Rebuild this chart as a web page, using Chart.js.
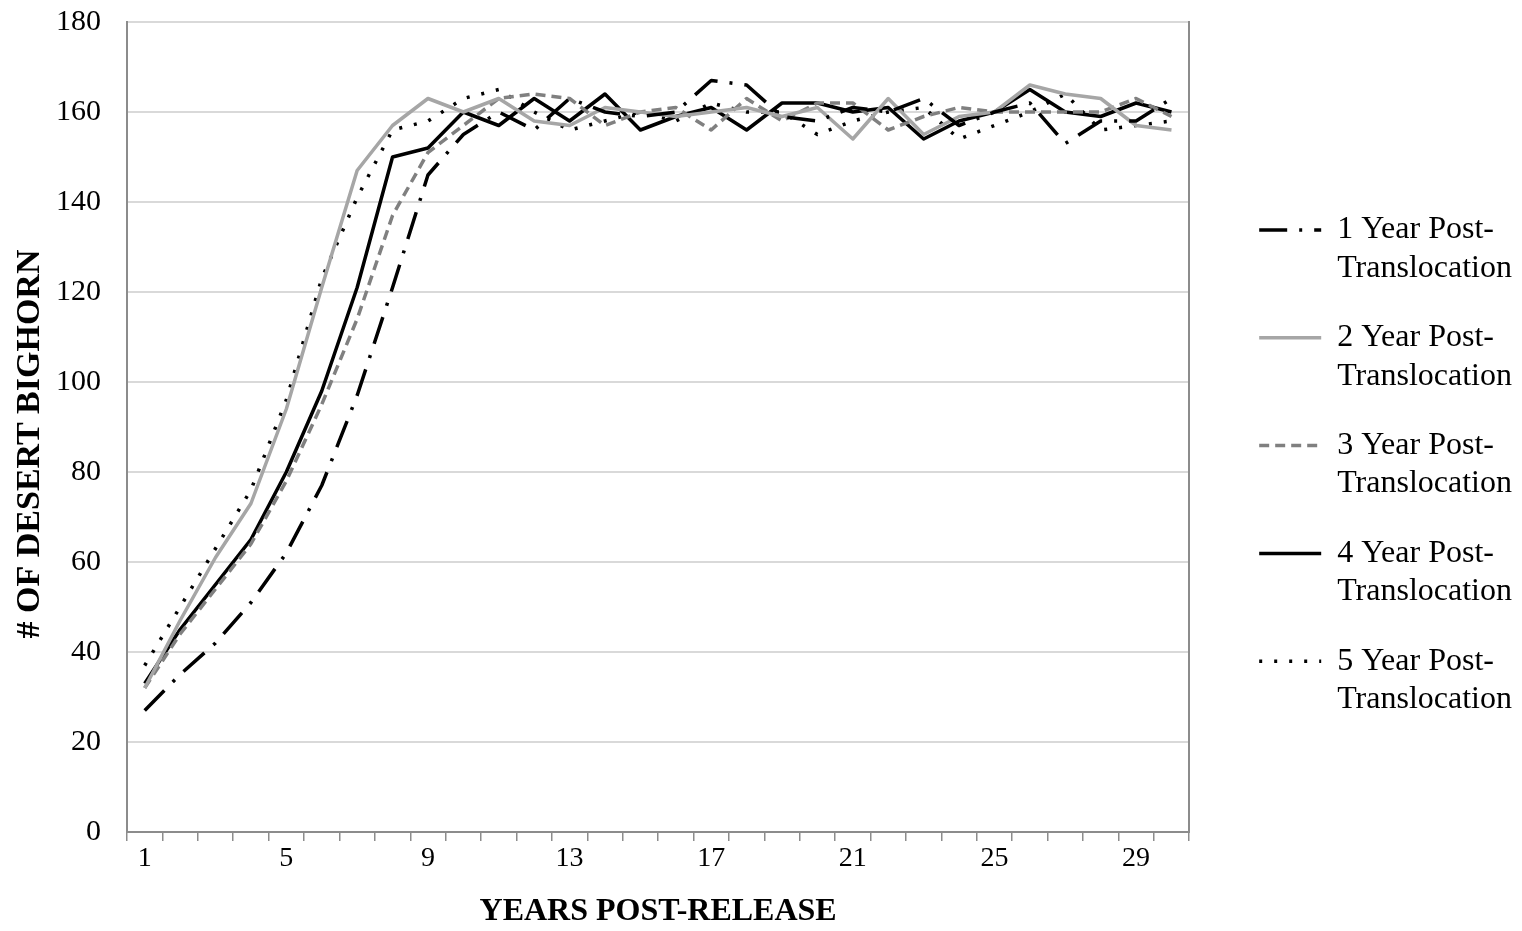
<!DOCTYPE html>
<html>
<head>
<meta charset="utf-8">
<script src="https://cdn.jsdelivr.net/npm/chart.js@4.4.1/dist/chart.umd.min.js"></script>
<style>
  html, body { margin: 0; padding: 0; background: #fff; }
</style>
</head>
<body>
<canvas id="chart" width="1522" height="931"></canvas>
<script>
const years = [1,2,3,4,5,6,7,8,9,10,11,12,13,14,15,16,17,18,19,20,21,22,23,24,25,26,27,28,29,30];

// # of desert bighorn
const oneYear   = [27,35,42,51,62,77,97,121,146,155,160,156,163,160,159,160,167,166,159,158,161,160,163,157,160,162,153,158,158,163];
const twoYear   = [32,47,61,73,94,121,147,157,163,160,163,158,157,161,160,159,160,161,159,161,154,163,155,159,160,166,164,163,157,156];
const threeYear = [32,44,54,64,78,95,114,137,151,157,163,164,163,157,160,161,156,163,158,162,162,156,159,161,160,160,160,160,163,159];
const fourYear  = [33,45,55,65,80,98,121,150,152,160,157,163,158,164,156,159,161,156,162,162,160,161,154,158,160,165,160,159,162,160];
const fiveYear  = [37,50,63,76,96,123,141,156,158,163,165,160,156,158,160,158,162,160,160,155,158,160,161,154,157,160,164,156,157,158];

const legendText = [
  ['1 Year Post-', 'Translocation'],
  ['2 Year Post-', 'Translocation'],
  ['3 Year Post-', 'Translocation'],
  ['4 Year Post-', 'Translocation'],
  ['5 Year Post-', 'Translocation'],
];

const serif = 'Liberation Serif, Times New Roman, serif';
const axisGray = '#8c8c8c';

const ctx = document.getElementById('chart').getContext('2d');
const chart = new Chart(ctx, {
  type: 'line',
  data: {
    labels: years,
    datasets: [
      { data: oneYear,   borderColor: '#000000', borderWidth: 3.5, borderDash: [28, 12, 3, 12] },
      { data: twoYear,   borderColor: '#a6a6a6', borderWidth: 3.5, borderDash: [] },
      { data: threeYear, borderColor: '#808080', borderWidth: 3.5, borderDash: [10, 6] },
      { data: fourYear,  borderColor: '#000000', borderWidth: 3.5, borderDash: [] },
      { data: fiveYear,  borderColor: '#000000', borderWidth: 3.5, borderDash: [3, 12] },
    ],
  },
  options: {
    responsive: false,
    animation: false,
    devicePixelRatio: 1,
    layout: { padding: { left: 10, top: 5, right: 0, bottom: 0 } },
    elements: {
      point: { radius: 0 },
      line: { tension: 0, borderCapStyle: 'butt', borderJoinStyle: 'round' },
    },
    plugins: {
      tooltip: { enabled: false },
      legend: {
        position: 'right',
        align: 'center',
        maxWidth: 300,
        labels: {
          usePointStyle: true,
          pointStyle: 'line',
          pointStyleWidth: 62,
          padding: 31,
          color: '#000',
          font: { family: serif, size: 32, lineHeight: 1.2 },
          generateLabels: (c) => c.data.datasets.map((ds, i) => ({
            text: legendText[i],
            strokeStyle: ds.borderColor,
            fillStyle: ds.borderColor,
            lineWidth: 3.5,
            lineDash: ds.borderDash,
            pointStyle: 'line',
            hidden: false,
            datasetIndex: i,
          })),
        },
      },
    },
    scales: {
      x: {
        offset: true,
        grid: {
          drawOnChartArea: false,
          drawTicks: true,
          tickLength: 9,
          offset: true,
          color: axisGray,
          lineWidth: 1.5,
        },
        border: { color: axisGray, width: 2 },
        ticks: {
          autoSkip: false,
          maxRotation: 0,
          padding: 1,
          color: '#000',
          font: { family: serif, size: 28 },
          callback: (v, i) => (i % 4 === 0 ? years[i] : ''),
        },
        title: {
          display: true,
          text: 'YEARS POST-RELEASE',
          color: '#000',
          font: { family: serif, size: 32, weight: 'bold' },
          padding: { top: 16, bottom: 0 },
        },
      },
      y: {
        min: 0,
        max: 180,
        afterFit: (scale) => { scale.width = 117; scale.paddingTop = 22; },
        grid: { color: '#d9d9d9', lineWidth: 2, drawTicks: false },
        border: { color: axisGray, width: 2 },
        ticks: {
          stepSize: 20,
          padding: 26,
          color: '#000',
          font: { family: serif, size: 30, lineHeight: 1 },
        },
        title: {
          display: true,
          // trailing spaces nudge the rotated title a little lower, as in the original
          text: '# OF DESERT BIGHORN\u00a0\u00a0\u00a0\u00a0',
          color: '#000',
          font: { family: serif, size: 34, weight: 'bold' },
          padding: { top: 0, bottom: 8 },
        },
      },
      yRight: {
        position: 'right',
        min: 0,
        max: 180,
        afterFit: (scale) => { scale.width = 39; },
        grid: { display: false, drawTicks: false },
        border: { color: axisGray, width: 2 },
        ticks: { display: false },
      },
    },
  },
});
</script>
</body>
</html>
